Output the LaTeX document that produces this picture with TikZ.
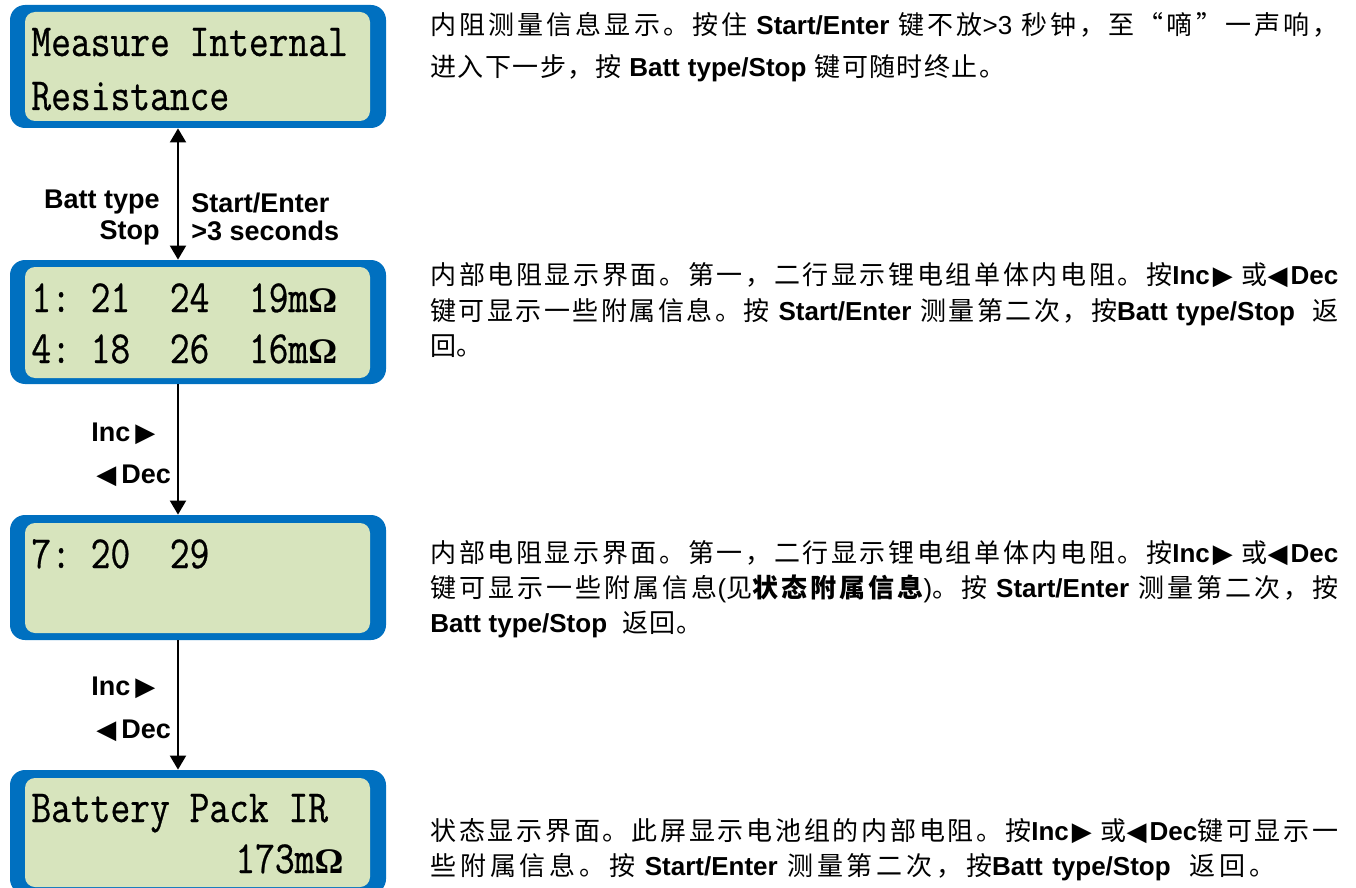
\documentclass[tikz,border=0pt]{standalone}
\usepackage{fontspec}
\usetikzlibrary{arrows.meta}
\setmainfont{Liberation Sans}
\newfontfamily\cjkfont{Noto Sans CJK SC}
\newfontfamily\lcdfont[FakeStretch=0.835,FakeBold=0.6]{Latin Modern Mono}
\newfontfamily\omegafont{Liberation Serif}
\newfontfamily\symfont{DejaVu Sans}

\definecolor{lcdblue}{RGB}{0,112,192}
\definecolor{lcdgreen}{RGB}{215,228,189}

% stretchable glue between CJK characters so that lines can be spread out
\XeTeXinterchartokenstate=1
\makeatletter
\def\setcjkrange#1#2{\count@=#1 \loop\XeTeXcharclass\count@=7 \ifnum\count@<#2 \advance\count@ 1 \repeat}
\setcjkrange{"3000}{"303F}
\setcjkrange{"4E00}{"9FFF}
\setcjkrange{"FF00}{"FFEF}
\setcjkrange{"201C}{"201D}
\makeatother
\XeTeXinterchartoks 7 7 = {\hskip0pt plus 3pt\relax}
\XeTeXinterchartoks 7 0 = {\hskip0pt plus 3pt\relax}
\XeTeXinterchartoks 0 7 = {\hskip0pt plus 3pt\relax}

\newcommand\zh[1]{{\cjkfont #1}}
\newcommand\bo[1]{{\bfseries #1}}
\newcommand\rtri{{\symfont\fontsize{13}{13}\selectfont ▶}}
\newcommand\ltri{{\symfont\fontsize{13}{13}\selectfont ◀}}
\newcommand\ohm{{\omegafont\bfseries\fontsize{18}{18}\selectfont Ω}}
\newcommand\jline[2][454pt]{\makebox[#1][s]{#2}}
\newcommand\incdec{\bo{Inc}\hspace{1.5pt}\rtri\ \zh{或}\ltri\hspace{1.5pt}\bo{Dec}}

\tikzset{
  lcdframe/.style={fill=lcdblue, rounded corners=7.5pt, inner sep=0pt, minimum width=188pt},
  lcdpanel/.style={fill=lcdgreen, rounded corners=5pt, inner sep=0pt, minimum width=172.5pt},
  lcdtext/.style={anchor=base west, inner sep=0pt, font=\lcdfont\fontsize{23}{23}\selectfont},
  keylab/.style={inner sep=0pt, font=\fontsize{13.5}{16}\selectfont\bfseries},
  body/.style={anchor=base west, inner sep=0pt, font=\fontsize{13}{15}\selectfont},
  conn/.style={line width=1pt, draw=black},
  >={Triangle[length=7pt,width=8pt]},
}

\begin{document}
\begin{tikzpicture}[x=0.5pt, y=-0.5pt]
\useasboundingbox (0,0) rectangle (1356,888);
\clip (0,0) rectangle (1356,888);
\fill[white] (0,0) rectangle (1356,888);

% display screens
\node[lcdframe, minimum height=61.5pt] (b1) at (198,66.5) {};
\node[lcdpanel, minimum height=54.5pt] (p1) at (197.5,66.5) {};
\node[lcdframe, minimum height=62pt] (b2) at (198,322) {};
\node[lcdpanel, minimum height=55.5pt] (p2) at (197.5,322.5) {};
\node[lcdframe, minimum height=62.5pt] (b3) at (198,577.5) {};
\node[lcdpanel, minimum height=55pt] (p3) at (197.5,578) {};
\node[lcdframe, minimum height=62pt] (b4) at (198,832) {};
\node[lcdpanel, minimum height=54.5pt] (p4) at (197.5,832.5) {};

% screen contents
\node[lcdtext] (s1a) at (31,56) {Measure Internal};
\node[lcdtext] (s1b) at (31,110) {Resistance};
\node[lcdtext] (s2a) at (31,312) {1:\ 21\ \ 24\ \ 19m\ohm};
\node[lcdtext] (s2b) at (31,363) {4:\ 18\ \ 26\ \ 16m\ohm};
\node[lcdtext] (s3a) at (31,568) {7:\ 20\ \ 29};
\node[lcdtext] (s4a) at (31,822) {Battery Pack IR};
\node[lcdtext] (s4b) at (235,873) {173m\ohm};

% key transitions
\coordinate (ax) at (178,0);
\draw[conn,<->] (b1.south -| ax) -- (b2.north -| ax);
\draw[conn,->] (b2.south -| ax) -- (b3.north -| ax);
\draw[conn,->] (b3.south -| ax) -- (b4.north -| ax);

\node[keylab, anchor=base east] (k1) at (160,209) {Batt type};
\node[keylab, anchor=base east] (k2) at (160,240) {Stop};
\node[keylab, anchor=base west] (k3) at (191,213) {Start/Enter};
\node[keylab, anchor=base west] (k4) at (191,241) {>3 seconds};
\node[keylab, anchor=base west] (k5) at (91,441) {Inc\hspace{2.5pt}\rtri};
\node[keylab, anchor=base west] (k6) at (96,483) {\ltri\hspace{2.5pt}Dec};
\node[keylab, anchor=base west] (k7) at (91,695) {Inc\hspace{2.5pt}\rtri};
\node[keylab, anchor=base west] (k8) at (96,738) {\ltri\hspace{2.5pt}Dec};

% descriptions
\node[body] (d1a) at (430,35) {\jline{\zh{内阻测量信息显示。按住} \bo{Start/Enter} \zh{键不放}>3 \zh{秒钟，至“嘀”一声响，}}};
\node[body] (d1b) at (430,77) {\jline[287.5pt]{\zh{进入下一步，按} \bo{Batt type/Stop} \zh{键可随时终止。}}};

\node[body] (d2a) at (430,285) {\jline{\zh{内部电阻显示界面。第一，二行显示锂电组单体内电阻。按}\incdec}};
\node[body] (d2b) at (430,321) {\jline{\zh{键可显示一些附属信息。按} \bo{Start/Enter} \zh{测量第二次，按}\bo{Batt type/Stop}\ \ \zh{返}}};
\node[body] (d2c) at (430,355) {\zh{回。}};

\node[body] (d3a) at (430,562) {\jline{\zh{内部电阻显示界面。第一，二行显示锂电组单体内电阻。按}\incdec}};
\node[body] (d3b) at (430,597) {\jline{\zh{键可显示一些附属信息}(\zh{见}{\cjkfont\bfseries 状态附属信息})\zh{。按} \bo{Start/Enter} \zh{测量第二次，按}}};
\node[body] (d3c) at (430,632) {\jline[136pt]{\bo{Batt type/Stop}\ \ \zh{返回。}}};

\node[body] (d4a) at (430,840) {\jline{\zh{状态显示界面。此屏显示电池组的内部电阻。按}\incdec\zh{键可显示一}}};
\node[body] (d4b) at (430,875) {\jline[422.5pt]{\zh{些附属信息。按} \bo{Start/Enter} \zh{测量第二次，按}\bo{Batt type/Stop}\ \ \zh{返回。}}};
\end{tikzpicture}
\end{document}
